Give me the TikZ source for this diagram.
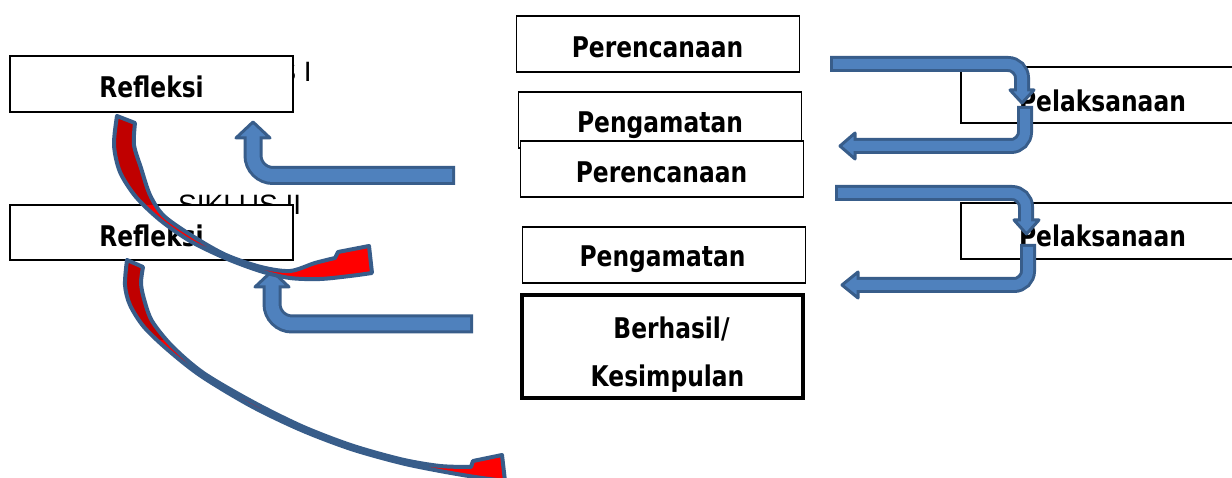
\documentclass[tikz,border=0pt]{standalone}
\usepackage{fontspec}
\setmainfont{DejaVu Sans}
\newfontfamily\lblf{DejaVu Sans}[FakeStretch=0.82]
\newfontfamily\lab{Liberation Sans}
\definecolor{afill}{HTML}{4F81BD}
\definecolor{aline}{HTML}{385D8A}
\definecolor{cred}{HTML}{FF0000}
\definecolor{cdred}{HTML}{C00000}
\tikzset{
  box/.style={draw=black, line width=1.2pt, fill=white, rectangle, inner sep=0pt, minimum width=283pt, minimum height=56pt},
  lbl/.style={font=\lblf\bfseries\fontsize{28.5}{32}\selectfont, inner sep=0pt, anchor=base},
  sik/.style={font=\lab\fontsize{28}{32}\selectfont, inner sep=0pt},
  aout/.style={draw=aline, line width=16pt, line cap=butt, rounded corners=14pt},
  ain/.style={draw=afill, line width=10pt, line cap=butt, rounded corners=14pt},
  aoutL/.style={draw=aline, line width=19pt, line cap=butt, rounded corners=20pt},
  ainL/.style={draw=afill, line width=13pt, line cap=butt, rounded corners=20pt},
  ahead/.style={fill=afill, draw=aline, line width=3pt, line join=round},
  cedge/.style={draw=aline, line width=4pt, line join=round}
}
\def\cAshape{plot[smooth] coordinates {(117,116) (114,145) (120,172) (136,197) (160,220) (190,241) (225,258) (260,271) (290,278) (320,279) (350,276) (372,273)} -- (369,246) -- (338,252) -- plot[smooth] coordinates {(335,258) (315,263) (290,271) (261,267) (226,255) (194,237) (164,216) (150,195) (141,168) (134,145) (135,123)} -- cycle}
\def\cBshape{plot[smooth] coordinates {(127,260) (125,285) (130,305) (144,327) (168,350) (201,376) (251,406) (301,430) (351,449) (401,463) (440,471) (475,477) (505,481)} -- (502,455) -- (473,461) -- plot[smooth] coordinates {(471,467) (440,466) (402,459.5) (352,445.5) (302.5,426.5) (253,402) (203.5,373) (172,346) (152,321) (144,299) (141,283) (143,267)} -- cycle}
\begin{document}
\begin{tikzpicture}[x=1pt,y=-1pt]
\useasboundingbox (0,0) rectangle (1232,478);
\fill[white] (0,0) rectangle (1232,478);

% cycle labels (partly hidden behind boxes)
\node[sik, anchor=base east] (s1) at (312,82) {SIKLUS I};
\node[sik, anchor=base west] (s2) at (178,215) {SIKLUS II};

% boxes
\node[box] (ref1) at (151.5,84) {};
\node[box, minimum height=55pt] (ref2) at (151.5,232.5) {};
\node[box] (per1) at (658,44) {};
\node[box] (pen1) at (660,120) {};
\node[box] (per2) at (662,169) {};
\node[box] (pen2) at (664,255) {};
\node[box, line width=4pt, minimum width=281pt, minimum height=103pt] (ber) at (662.5,346.5) {};
\node[box] (pel1) at (1102.5,95) {};
\node[box] (pel2) at (1102.5,231) {};

% texts
\node[lbl] (tref1) at (151.5,98) {Refleksi};
\node[lbl] (tref2) at (151.5,247) {Refleksi};
\node[lbl] (tper1) at (657.5,58) {Perencanaan};
\node[lbl] (tpen1) at (660,133) {Pengamatan};
\node[lbl] (tper2) at (661.5,183) {Perencanaan};
\node[lbl] (tpen2) at (662.5,267) {Pengamatan};
\node[lbl] (tber1) at (671.5,338) {Berhasil/};
\node[lbl] (tber2) at (667.5,387) {Kesimpulan};
\node[lbl] (tpel1) at (1102.5,112) {Pelaksanaan};
\node[lbl] (tpel2) at (1102.5,247) {Pelaksanaan};

% right bent arrows, cycle I
\draw[aout] (830,64) -- (1022,64) -- (1022,93);
\draw[ahead] (1010,90) -- (1034,90) -- (1022,103) -- cycle;
\draw[ain] (833,64) -- (1022,64) -- (1022,93);

\draw[aout] (1025,106) -- (1025,146) -- (853,146);
\draw[ahead] (855,133) -- (855,159) -- (840,146) -- cycle;
\draw[ain] (1025,109) -- (1025,146) -- (853,146);

% right bent arrows, cycle II
\draw[aout] (835,193) -- (1026,193) -- (1026,223);
\draw[ahead] (1014,220) -- (1039,220) -- (1026.5,234) -- cycle;
\draw[ain] (838,193) -- (1026,193) -- (1026,223);

\draw[aout] (1028,244) -- (1028,285) -- (856,285);
\draw[ahead] (858,272) -- (858,298) -- (842,285) -- cycle;
\draw[ain] (1028,247) -- (1028,285) -- (856,285);

% left bent arrows
\draw[aoutL] (455,175.5) -- (253,175.5) -- (253,136);
\draw[ahead] (236,138) -- (270,138) -- (253,122) -- cycle;
\draw[ainL] (452,175.5) -- (253,175.5) -- (253,136);

\draw[aoutL] (473,324) -- (272,324) -- (272,285);
\draw[ahead] (255,287) -- (289,287) -- (272,271) -- cycle;
\draw[ainL] (470,324) -- (272,324) -- (272,285);

% curved arrows
\fill[cred] \cAshape;
\begin{scope}
\clip (0,0) rectangle (160,205);
\fill[cdred] \cAshape;
\end{scope}
\draw[cedge] \cAshape;

\fill[cred] \cBshape;
\begin{scope}
\clip (0,0) rectangle (180,340);
\fill[cdred] \cBshape;
\end{scope}
\draw[cedge] \cBshape;
\end{tikzpicture}
\end{document}
